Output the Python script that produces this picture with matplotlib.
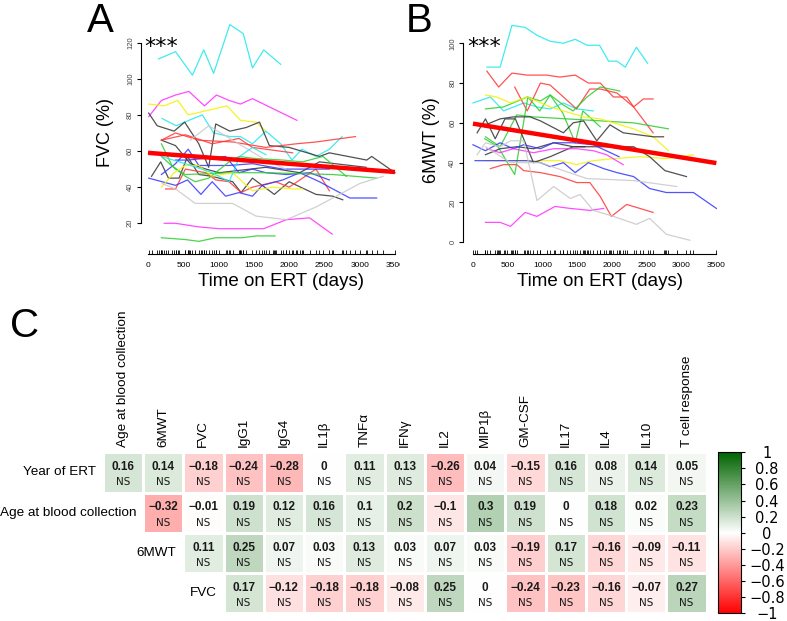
import numpy as np
import matplotlib
matplotlib.use("Agg")
import matplotlib.pyplot as plt
from matplotlib.colors import LinearSegmentedColormap
from matplotlib.patches import Rectangle

plt.rcParams['font.family'] = ['Liberation Sans', 'DejaVu Sans']

# ---- panel A: FVC (%) per patient over time on ERT
fvc_colors = ['cyan', 'magenta', 'yellow', 'cyan', 'black', 'black', 'black', 'red', 'red', 'red',
              'blue', 'blue', 'blue', 'green', 'green', 'green', 'yellow', 'magenta', 'gray', 'gray', 'cyan']
fvc_days = [
    [150, 390, 630, 790, 930, 1160, 1350, 1480, 1640, 1880],
    [10, 190, 390, 580, 800, 970, 1150, 1310, 1480, 2110],
    [10, 230, 420, 570, 1120, 1310, 1530, 1670],
    [200, 400, 580, 770, 930, 1160, 1310, 1480, 1670, 1880, 2040, 2180, 2380, 2570, 2750],
    [10, 130, 370, 520, 720, 860, 960, 1160, 1390, 1580, 1720, 2000, 2430, 2570, 3100, 3170, 3500],
    [50, 180, 290, 440, 560, 720, 910, 1200, 1320, 1480, 1790, 2000, 2380, 2620, 2760],
    [190, 390, 600, 820, 1010, 1670, 2150, 2430, 3090],
    [190, 390, 720, 1200, 1670, 2100, 2380, 2940],
    [190, 530, 910, 1290, 1480, 2050],
    [250, 390, 530, 820, 960, 1150, 1320, 1480, 1810, 2000, 2380, 2570],
    [10, 200, 390, 560, 750, 910, 1100, 1290, 1480, 1620, 1910, 2150, 2430, 2620, 2860, 3240],
    [190, 390, 570, 720, 910, 1150, 1480, 1910, 2570],
    [390, 560, 1100, 1290, 1480, 1670, 1960, 2290, 2570],
    [190, 530, 720, 960, 1340, 1530, 1800],
    [190, 340, 530, 670, 860, 1150, 1290, 1480, 1910, 2190, 2480, 2810],
    [190, 390, 530, 1200, 1670, 2620, 3240],
    [190, 370, 530, 720, 910, 1200, 1480, 1770, 2050, 2190],
    [230, 390, 720, 1010, 1290, 1640, 1960, 2290, 2610],
    [200, 390, 670, 1200, 1530, 1960, 2380, 3000, 3330],
    [600, 860, 1200, 1670, 1950],
    [190, 530, 910, 1150, 1300, 1480, 1670],
]
fvc_values = [
    [111, 115, 102, 116, 103, 130, 125, 106, 116, 108],
    [79, 88, 91, 93, 85, 91, 88, 86, 89, 77],
    [86, 85, 88, 80, 85, 77, 76, 71],
    [78, 74, 77, 80, 70, 68, 68, 64, 71, 64, 55, 61, 57, 61, 68],
    [81, 74, 71, 76, 64, 51, 75, 71, 73, 76, 63, 62, 57, 59, 55, 57, 48],
    [46, 54, 45, 45, 57, 47, 46, 43, 37, 45, 36, 43, 36, 35, 33],
    [66, 63, 53, 50, 48, 51, 48, 54, 51],
    [66, 70, 66, 65, 62, 64, 65, 68],
    [66, 69, 64, 67, 62, 59],
    [39, 39, 50, 48, 44, 43, 37, 40, 43, 40, 50, 38],
    [45, 43, 41, 44, 36, 43, 35, 37, 35, 41, 44, 48, 43, 39, 34, 34],
    [47, 53, 61, 52, 52, 52, 53, 50, 50],
    [55, 55, 57, 48, 50, 48, 47, 48, 44],
    [12, 11, 10, 12, 12, 13, 13],
    [64, 52, 46, 43, 45, 54, 57, 56, 55, 54, 57, 46],
    [57, 50, 47, 48, 48, 47, 45],
    [40, 48, 52, 52, 46, 48, 38, 40, 39, 39],
    [20, 20, 18, 17, 17, 17, 22, 23, 14],
    [42, 39, 31, 31, 24, 22, 29, 42, 46],
    [66, 74, 66, 55, 50],
    [57, 53, 48, 43, 57, 62, 58],
]
fvc_fit = (59.0, -0.00303)   # intercept, slope per day

# ---- panel B: 6MWT (%)
mwt_colors = ['cyan', 'cyan', 'red', 'red', 'red', 'green', 'green', 'green', 'yellow', 'yellow',
              'black', 'black', 'black', 'blue', 'blue', 'magenta', 'magenta', 'gray', 'gray']
mwt_days = [
    [200, 390, 560, 750, 920, 1110, 1300, 1470, 1640, 1820, 1950, 2070, 2190, 2350, 2510],
    [0, 250, 440, 730, 920, 1110, 1300, 1490, 1730],
    [200, 370, 560, 780, 1060, 1250, 1470, 1660, 1830, 2020, 2210, 2310, 2450, 2590],
    [600, 780, 970, 1110, 1490, 1680, 1830, 2070, 2310, 2590],
    [250, 440, 630, 730, 970, 1250, 1490, 1680, 1830, 1990, 2210, 2590],
    [180, 440, 780, 970, 1110, 1300, 1440, 1640, 1830, 2110],
    [170, 360, 600, 790, 960, 1110, 1290, 1470, 1580, 1830],
    [180, 390, 630, 870, 1350, 1830, 2310, 2810],
    [180, 340, 540, 780, 1110, 1590, 1830, 2310, 2590, 2810],
    [180, 390, 630, 970, 1250, 1490, 1730, 2020, 2400, 2780, 3170],
    [60, 180, 320, 460, 610, 870, 1110, 1440, 1610],
    [180, 390, 580, 820, 970, 1300, 1440, 1590, 1780, 1970, 2160, 2590, 2740],
    [180, 390, 630, 870, 1160, 1440, 1830, 2310, 2540, 2760, 3070],
    [0, 180, 390, 580, 730, 970, 1160, 1440, 1730, 2100],
    [30, 200, 490, 780, 970, 1110, 1300, 1470, 1660, 1880, 2070, 2310, 2540, 2780, 3170, 3500],
    [200, 390, 580, 870, 1160, 1490, 1730, 1920, 2160],
    [180, 390, 540, 750, 920, 1180, 1400, 1680, 1880],
    [60, 180, 390, 540, 730, 920, 1160, 1400, 1540, 1730, 2020, 2350, 2540, 2780, 3120],
    [180, 540, 970, 1300, 1640, 2310, 2930],
]
mwt_values = [
    [88, 88, 109, 108, 104, 101, 100, 102, 99, 99, 91, 91, 88, 98, 90],
    [70, 73, 66, 70, 68, 67, 70, 67, 66],
    [86, 78, 85, 84, 84, 83, 84, 80, 80, 73, 73, 68, 72, 72],
    [78, 66, 80, 79, 67, 77, 77, 75, 68, 55],
    [37, 39, 39, 36, 35, 33, 30, 30, 23, 13, 19, 15],
    [67, 68, 73, 71, 74, 69, 66, 73, 78, 76],
    [52, 48, 34, 73, 66, 74, 65, 50, 66, 58],
    [53, 48, 64, 63, 62, 61, 60, 57],
    [74, 73, 70, 73, 68, 63, 62, 57, 53, 46],
    [41, 41, 41, 41, 41, 39, 41, 42, 43, 42, 44],
    [55, 62, 52, 62, 62, 40, 43, 48, 48],
    [59, 62, 63, 63, 61, 55, 60, 61, 51, 59, 55, 53, 53],
    [44, 47, 48, 47, 50, 48, 48, 48, 43, 36, 33],
    [49, 46, 50, 47, 49, 47, 50, 50, 49, 43],
    [41, 41, 41, 41, 40, 38, 40, 35, 40, 37, 35, 33, 27, 25, 25, 17],
    [47, 45, 47, 45, 47, 47, 46, 44, 39],
    [10, 10, 8, 15, 13, 18, 17, 16, 17],
    [44, 50, 48, 51, 51, 21, 28, 22, 24, 16, 13, 9, 12, 4, 1],
    [48, 40, 40, 36, 32, 31, 28],
]
mwt_fit = (59.6, -0.00566)

# ---- panel C: correlation matrix
col_labels = ['Age at blood collection', '6MWT', 'FVC', 'IgG1', 'IgG4', 'IL1β', 'TNFα', 'IFNγ',
              'IL2', 'MIP1β', 'GM-CSF', 'IL17', 'IL4', 'IL10', 'T cell response']
row_labels = ['Year of ERT', 'Age at blood collection', '6MWT', 'FVC']
row_year = [0.16, 0.14, -0.18, -0.24, -0.28, 0, 0.11, 0.13, -0.26, 0.04, -0.15, 0.16, 0.08, 0.14, 0.05]
row_age = [-0.32, -0.01, 0.19, 0.12, 0.16, 0.1, 0.2, -0.1, 0.3, 0.19, 0, 0.18, 0.02, 0.23]
row_6mwt = [0.11, 0.25, 0.07, 0.03, 0.13, 0.03, 0.07, 0.03, -0.19, 0.17, -0.16, -0.09, -0.11]
row_fvc = [0.17, -0.12, -0.18, -0.18, -0.08, 0.25, 0, -0.24, -0.23, -0.16, -0.07, 0.27]

line_col = {'cyan': '#1ee8ee', 'magenta': '#ff2cff', 'yellow': '#f2f200', 'black': '#333333',
            'red': '#ff3535', 'blue': '#3434ff', 'green': '#2ccc2c', 'gray': '#c8c8c8'}

W, H = 787, 621
fig = plt.figure(figsize=(W / 100, H / 100), dpi=100)


def px_axes(x0, y0, x1, y1):
    return fig.add_axes([x0 / W, 1 - y1 / H, (x1 - x0) / W, (y1 - y0) / H])


def fmt(v):
    return f"{v + 0.0:g}".replace('-', '\u2212')


def spaghetti(ax, days, values, colors, fit, xlim, ylim, yticks):
    for d, v, c in zip(days, values, colors):
        ax.plot(d, v, color=line_col[c], lw=0.9, alpha=0.85)
    xs = np.array([0, 3500])
    ax.plot(xs, fit[0] + fit[1] * xs, color='#ff0000', lw=3.2, solid_capstyle='butt')
    rug = sorted(set(t for d in days for t in d))
    ax.vlines(rug, 0, 0.018, transform=ax.get_xaxis_transform(), colors='black', lw=0.6)
    ax.set_xlim(*xlim)
    ax.set_ylim(*ylim)
    for s in ['top', 'right']:
        ax.spines[s].set_visible(False)
    ax.spines['left'].set_bounds(yticks[0], yticks[-1])
    ax.spines['bottom'].set_bounds(0, 3500)
    ax.spines['left'].set_linewidth(0.8)
    ax.spines['bottom'].set_linewidth(0.8)
    ax.set_xticks(np.arange(0, 3501, 500))
    ax.set_yticks(yticks)
    ax.tick_params(axis='x', length=0, labelsize=6, pad=6)
    ax.tick_params(axis='y', length=3, width=0.8, labelsize=5.5, labelrotation=90, pad=2,
                   labelcolor='#444444')
    for lbl in ax.get_yticklabels():
        lbl.set_va('center')


axA = px_axes(141, 15, 400, 254)
spaghetti(axA, fvc_days, fvc_values, fvc_colors, fvc_fit, (-99, 3571), (3.0, 135.3),
          np.arange(20, 121, 20))
axB = px_axes(463.3, 15, 725, 254)
spaghetti(axB, mwt_days, mwt_values, mwt_colors, mwt_fit, (-139, 3624), (-5.9, 114.2),
          np.arange(0, 101, 20))

# hide the part of the A "3500" label that is cut off in the original
fig.add_artist(Rectangle((400 / W, 1 - 272 / H), 50 / W, 14 / H, transform=fig.transFigure,
                         facecolor='white', edgecolor='none', zorder=10))

fig.text(105.7 / W, 1 - 132.5 / H, 'FVC (%)', rotation=90, ha='center', va='center', fontsize=13)
fig.text(431.7 / W, 1 - 140 / H, '6MWT (%)', rotation=90, ha='center', va='center', fontsize=13)
fig.text(281 / W, 1 - 281.5 / H, 'Time on ERT (days)', ha='center', va='center', fontsize=13.5)
fig.text(600 / W, 1 - 281.5 / H, 'Time on ERT (days)', ha='center', va='center', fontsize=13.5)
fig.text(161 / W, 1 - 47 / H, '***', ha='center', va='center', fontsize=16, family='DejaVu Sans')
fig.text(484 / W, 1 - 47 / H, '***', ha='center', va='center', fontsize=16, family='DejaVu Sans')
fig.text(100 / W, 1 - 32 / H, 'A', ha='center', va='baseline', fontsize=29)
fig.text(419 / W, 1 - 32.5 / H, 'B', ha='center', va='baseline', fontsize=29)
fig.text(25 / W, 1 - 336.7 / H, 'C', ha='center', va='baseline', fontsize=29)

# ---- heatmap
rows = [row_year, row_age, row_6mwt, row_fvc]
ncol = len(col_labels)
M = np.full((len(rows), ncol), np.nan)
for r, vals in enumerate(rows):
    M[r, ncol - len(vals):] = vals

cmap = LinearSegmentedColormap.from_list('rwg', ['#ff0000', '#ffffff', '#006400'])
axC = px_axes(102.7, 452.3, 706.7, 613.3)
mesh = axC.pcolormesh(np.ma.masked_invalid(M), cmap=cmap, vmin=-1, vmax=1,
                      edgecolors='white', linewidth=1.0)
axC.set_xlim(0, ncol)
axC.set_ylim(len(rows), 0)
axC.axis('off')

for r, vals in enumerate(rows):
    c0 = ncol - len(vals)
    axC.text(c0 - 0.17, r + 0.5, row_labels[r], ha='right', va='center', fontsize=9.7)
    for j, v in enumerate(vals):
        axC.text(c0 + j + 0.5, r + 0.37, fmt(v), ha='center', va='center', fontsize=8.5,
                 fontweight='bold', color='#1a1a1a')
        axC.text(c0 + j + 0.5, r + 0.75, 'NS', ha='center', va='center', fontsize=7.5,
                 family='DejaVu Sans', color='#1a1a1a')
for c, lab in enumerate(col_labels):
    axC.text(c + 0.5, -0.14, lab, rotation=90, ha='center', va='bottom', fontsize=9.7)

cax = px_axes(718, 452.3, 740.7, 613.3)
cb = fig.colorbar(mesh, cax=cax)
ticks = np.round(np.arange(-1, 1.01, 0.2), 1)
cb.set_ticks(ticks)
cb.set_ticklabels([fmt(t) for t in ticks])
cb.outline.set_linewidth(0.8)
cax.tick_params(length=3, width=0.8, pad=16, labelsize=10.5)
for lbl in cax.get_yticklabels():
    lbl.set_ha('center')
    lbl.set_family('DejaVu Sans')

fig.savefig('out.png', dpi=100)
